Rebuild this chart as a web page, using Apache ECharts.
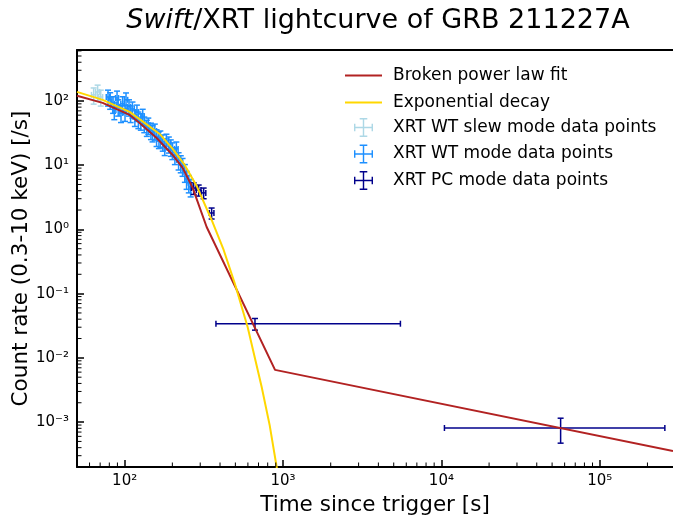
<!DOCTYPE html>
<html>
<head>
<meta charset="utf-8">
<script src="https://cdn.jsdelivr.net/npm/echarts@6/dist/echarts.min.js"></script>
<style>
html, body { margin: 0; padding: 0; background: #fff; }
#chart { width: 673px; height: 520px; }
</style>
</head>
<body>
<div id="chart"></div>
<script>
// axis range
const X_MIN = 50, X_MAX = 2.9e5, Y_MIN = 2e-4, Y_MAX = 620;

// XRT WT slew mode
const slewX = [63.7, 67.5, 70.6];
const slewY = [124, 138, 115];
const slewXerr = [2, 2, 2];
const slewYerr = [35, 38, 32];

// XRT WT mode
const wtX = [78.5, 81, 84.5, 86, 89.5, 91, 94.8, 97, 100.5, 102, 106.5, 109, 112, 116, 119.5, 122, 126.5, 130, 133, 138,
  141, 146.5, 150, 155, 159, 164.5, 168, 174, 179, 183.5, 190, 195.5, 200, 207.5, 212, 219, 226, 232, 240, 246, 254, 261];
const wtY = [115, 104, 90, 72, 111, 81, 65, 90, 67, 104, 81, 65, 75, 56, 67, 52, 49, 58, 44, 39,
  42, 35, 32, 34, 27.5, 25.6, 26.5, 23, 19.9, 23.8, 21.4, 19.2, 17.2, 14.4, 17.9, 12, 10.8, 9.7, 7.8, 6.1, 5.3, 4.6];
const wtXerr = [2, 2, 2, 2, 2, 2, 2.5, 2.5, 2.5, 2.5, 2.5, 2.5, 3, 3, 3, 3, 3, 3, 3.5, 3.5,
  3.5, 3.5, 4, 4, 4, 4, 4.5, 4.5, 4.5, 5, 5, 5, 5, 5.5, 5.5, 6, 6, 6, 6.5, 6.5, 7, 7];
const wtYerr = [32, 30, 26, 21, 31, 23, 19, 26, 19, 29, 23, 19, 21, 16, 19, 15, 14, 16, 12, 11,
  12, 10, 9, 9.5, 8, 7.5, 7.5, 6.5, 5.8, 6.5, 6, 5.5, 5, 4.2, 5, 3.6, 3.2, 3, 2.4, 1.9, 1.6, 1.4];

// XRT PC mode
const pcX = [272.7, 293.3, 315.3, 354.1, 665, 56600];
const pcY = [4.4, 4.1, 3.7, 1.8, 0.034, 8.1e-4];
const pcXerrLo = [9, 10, 10, 12, 288, 46150];
const pcXerrHi = [9, 10, 10, 12, 4845, 201000];
const pcYerr = [0.9, 0.8, 0.7, 0.35, 0.007, 3.4e-4];

// model curves
const bplT = [50, 72.6, 107.5, 124.4, 159.2, 200.9, 232.4, 268.8, 329.4, 890, 2.9e5];
const bplR = [120, 93.1, 60.5, 45.4, 26.5, 14.4, 9.05, 4.42, 1.09, 6.5e-3, 3.55e-4];
const expT = [50, 72.6, 107.5, 166.3, 200.9, 239.2, 284.8, 354.1, 421.7, 494.9, 597.6, 733, 823.2, 911.5, 938];
const expR = [138, 103.6, 67.4, 30.6, 17.9, 10.07, 4.74, 1.40, 0.478, 0.146, 0.0302, 3.51e-3, 8.97e-4, 2e-4, 1.29e-4];

const pairs = (xs, ys) => xs.map((v, i) => [v, ys[i]]);
const errRows = (x, y, xl, xh, ye) =>
  x.map((v, i) => [v, y[i], v - xl[i], v + xh[i], Math.max(y[i] - ye[i], 1e-9), y[i] + ye[i]]);

const SUP = { '0': '⁰', '1': '¹', '2': '²', '3': '³', '4': '⁴', '5': '⁵', '6': '⁶', '7': '⁷', '8': '⁸', '9': '⁹', '-': '⁻' };
function powLabel(v) {
  const e = Math.round(Math.log10(v));
  if (Math.abs(v / Math.pow(10, e) - 1) > 1e-6) return '';
  return '10' + String(e).split('').map(c => SUP[c]).join('');
}

function renderErr(params, api) {
  const c = api.coord([api.value(0), api.value(1)]);
  const l = api.coord([api.value(2), api.value(1)]);
  const r = api.coord([api.value(3), api.value(1)]);
  const b = api.coord([api.value(0), api.value(4)]);
  const t = api.coord([api.value(0), api.value(5)]);
  const cap = 3;
  const style = { stroke: api.visual('color'), lineWidth: 1.5 };
  const ln = (x1, y1, x2, y2) => ({ type: 'line', shape: { x1, y1, x2, y2 }, style });
  return {
    type: 'group',
    children: [
      ln(l[0], c[1], r[0], c[1]),
      ln(c[0], b[1], c[0], t[1]),
      ln(l[0], c[1] - cap, l[0], c[1] + cap),
      ln(r[0], c[1] - cap, r[0], c[1] + cap),
      ln(c[0] - cap, b[1], c[0] + cap, b[1]),
      ln(c[0] - cap, t[1], c[0] + cap, t[1])
    ]
  };
}

// minor ticks at 2..9 x 10^n
const xMinor = [], yMinor = [];
for (let e = 1; e <= 5; e++) for (let m = 2; m <= 9; m++) {
  const v = m * Math.pow(10, e);
  if (v > X_MIN * 1.001 && v < X_MAX * 0.999) xMinor.push([v, Y_MIN]);
}
for (let e = -4; e <= 2; e++) for (let m = 2; m <= 9; m++) {
  const v = m * Math.pow(10, e);
  if (v > Y_MIN * 1.001 && v < Y_MAX * 0.999) yMinor.push([X_MIN, v]);
}
const tickStyle = { stroke: '#000', lineWidth: 1 };

const errIcon = 'path://M0,9.25h20v1.5h-20z M9.25,0h1.5v20h-1.5z M0,6h1.5v8h-1.5z M18.5,6h1.5v8h-1.5z M6,0h8v1.5h-8z M6,18.5h8v1.5h-8z';
const FONT = 'DejaVu Sans';

const chart = echarts.init(document.getElementById('chart'));
chart.setOption({
  animation: false,
  textStyle: { fontFamily: FONT },
  title: {
    text: '{it|Swift}/XRT lightcurve of GRB 211227A',
    left: 373,
    textAlign: 'center',
    top: 2,
    textStyle: {
      fontFamily: FONT, fontSize: 27, fontWeight: 'normal', color: '#000',
      rich: { it: { fontFamily: FONT, fontSize: 27, fontStyle: 'italic', color: '#000' } }
    }
  },
  legend: [{
    orient: 'vertical', left: 340, top: 61, itemWidth: 37, itemHeight: 2, itemGap: 8, icon: 'rect',
    textStyle: { fontFamily: FONT, fontSize: 17, color: '#000', lineHeight: 19, padding: [0, 0, 0, 6] },
    data: ['Broken power law fit', 'Exponential decay']
  }, {
    orient: 'vertical', left: 349, top: 113, itemWidth: 19, itemHeight: 19, itemGap: 7.5,
    textStyle: { fontFamily: FONT, fontSize: 17, color: '#000', lineHeight: 19, padding: [0, 0, 0, 15] },
    data: [
      { name: 'XRT WT slew mode data points', icon: errIcon, itemStyle: { color: '#add8e6' } },
      { name: 'XRT WT mode data points', icon: errIcon, itemStyle: { color: '#1e90ff' } },
      { name: 'XRT PC mode data points', icon: errIcon, itemStyle: { color: '#00008b' } }
    ]
  }],
  grid: { left: 77, top: 50, right: 0, bottom: 53, outerBoundsMode: 'none' },
  xAxis: [{
    type: 'log', min: X_MIN, max: X_MAX,
    name: 'Time since trigger [s]', nameLocation: 'middle', nameGap: 27,
    nameTextStyle: { fontFamily: FONT, fontSize: 21.5, color: '#000' },
    axisLine: { show: true, lineStyle: { color: '#000', width: 2 } },
    axisTick: { inside: true, length: 7, lineStyle: { color: '#000', width: 1.5 } },
    axisLabel: { formatter: powLabel, fontSize: 15, color: '#000', margin: 7, showMinLabel: false, showMaxLabel: false },
    splitLine: { show: false }
  }, {
    // top spine only
    type: 'log', min: X_MIN, max: X_MAX, position: 'top',
    axisLine: { show: true, lineStyle: { color: '#000', width: 2 } },
    axisTick: { show: false }, axisLabel: { show: false }, splitLine: { show: false }
  }],
  yAxis: {
    type: 'log', min: Y_MIN, max: Y_MAX,
    name: 'Count rate (0.3-10 keV) [/s]', nameLocation: 'middle', nameGap: 45, nameMoveOverlap: false,
    nameTextStyle: { fontFamily: FONT, fontSize: 21.5, color: '#000' },
    axisLine: { show: true, lineStyle: { color: '#000', width: 2 } },
    axisTick: { inside: true, length: 7, lineStyle: { color: '#000', width: 1.5 } },
    axisLabel: { formatter: powLabel, fontSize: 15, color: '#000', margin: 8, showMinLabel: false, showMaxLabel: false },
    splitLine: { show: false }
  },
  series: [
    {
      name: 'XRT WT slew mode data points', type: 'custom', renderItem: renderErr, silent: true, z: 3,
      itemStyle: { color: '#add8e6' }, encode: { x: 0, y: 1 },
      data: errRows(slewX, slewY, slewXerr, slewXerr, slewYerr)
    },
    {
      name: 'XRT WT mode data points', type: 'custom', renderItem: renderErr, silent: true, z: 3,
      itemStyle: { color: '#1e90ff' }, encode: { x: 0, y: 1 },
      data: errRows(wtX, wtY, wtXerr, wtXerr, wtYerr)
    },
    {
      name: 'XRT PC mode data points', type: 'custom', renderItem: renderErr, silent: true, z: 3,
      itemStyle: { color: '#00008b' }, encode: { x: 0, y: 1 },
      data: errRows(pcX, pcY, pcXerrLo, pcXerrHi, pcYerr)
    },
    {
      name: 'Broken power law fit', type: 'line', showSymbol: false, silent: true, z: 4,
      itemStyle: { color: '#b22222' }, lineStyle: { color: '#b22222', width: 2 },
      data: pairs(bplT, bplR)
    },
    {
      name: 'Exponential decay', type: 'line', showSymbol: false, silent: true, z: 4,
      itemStyle: { color: '#ffd700' }, lineStyle: { color: '#ffd700', width: 2 },
      data: pairs(expT, expR)
    },
    {
      type: 'custom', silent: true, z: 5, data: xMinor, encode: { x: 0, y: 1 },
      renderItem: (p, api) => {
        const c = api.coord([api.value(0), api.value(1)]);
        return { type: 'line', shape: { x1: c[0], y1: c[1], x2: c[0], y2: c[1] - 4.5 }, style: tickStyle };
      }
    },
    {
      type: 'custom', silent: true, z: 5, data: yMinor, encode: { x: 0, y: 1 },
      renderItem: (p, api) => {
        const c = api.coord([api.value(0), api.value(1)]);
        return { type: 'line', shape: { x1: c[0], y1: c[1], x2: c[0] + 4.5, y2: c[1] }, style: tickStyle };
      }
    }
  ]
});
</script>
</body>
</html>
